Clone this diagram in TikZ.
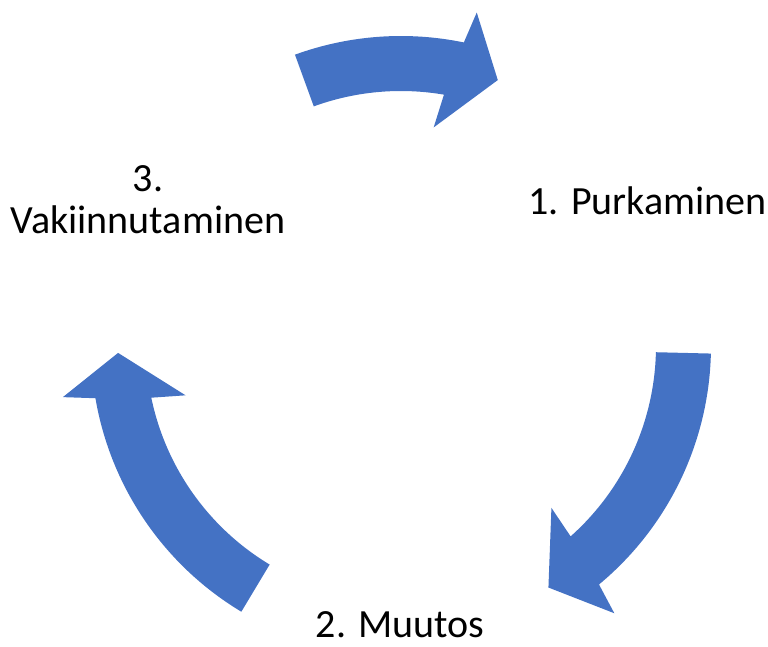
\documentclass[tikz,border=0pt]{standalone}
\usepackage{fontspec}
\setmainfont{Carlito}
\usepackage{xcolor}
\usepackage{tikz}
\usetikzlibrary{positioning}
\definecolor{CycleBlue}{HTML}{4472C4}
\tikzset{
  arrowfill/.style={fill=CycleBlue},
  stage/.style={align=center,font=\fontsize{20}{20.8}\selectfont,inner sep=0pt,anchor=base}
}
% #1 tail angle, #2 tip angle (clockwise arrow on the cycle)
\newcommand{\cyclearrow}[2]{%
  \fill[arrowfill] (#1:310) arc[start angle=#1, end angle={#2+8.3}, radius=310]
    -- ({#2+7.2}:342) -- (#2:283) -- ({#2+11.5}:221) -- ({#2+10.3}:255)
    arc[start angle={#2+10.3}, end angle=#1, radius=255] -- cycle;}

\begin{document}
\begin{tikzpicture}[x=0.5pt,y=0.5pt]
  \useasboundingbox (-401,-301) rectangle (367,346);

  \cyclearrow{110}{70}
  \cyclearrow{-1.4}{-58.6}
  \cyclearrow{239}{181.4}

  \node[stage] (purku) at (246.5,131.7) {1. Purkaminen};
  \node[stage,text depth=0pt] (muutos) at (-1,-292) {2. Muutos};
  \node[stage] (vakiinnutus) at (-253,112.7) {3.\\Vakiinnutaminen};
\end{tikzpicture}
\end{document}
